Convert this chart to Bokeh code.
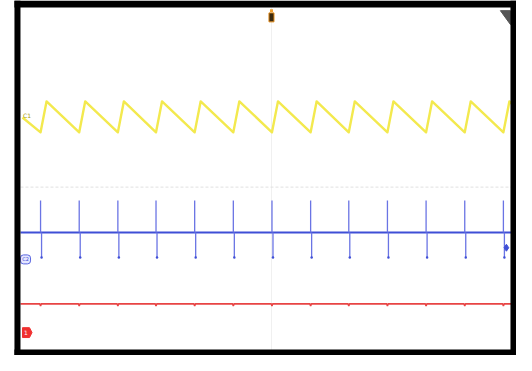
from bokeh.plotting import figure
from bokeh.models import Range1d, BoxAnnotation
from bokeh.core.properties import value
from bokeh.embed import file_html
from bokeh.resources import INLINE

# ---- data (screen divisions: 10 horizontal x 8 vertical) ----
trough_t = [-4.60, -3.83, -3.06, -2.30, -1.53, -0.76, 0.01, 0.78, 1.54, 2.31, 3.08, 3.85, 4.62]
peak_t = [-4.48, -3.71, -2.94, -2.18, -1.41, -0.64, 0.13, 0.90, 1.66, 2.43, 3.20, 3.97, 4.74]
saw_start = (-4.96, 1.55)
saw_end = (4.98, 1.62)
saw_low = 1.22
saw_high = 1.91

ch2_base = -1.01
ch2_spike_hi = -0.30
ch2_spike_lo = -1.57

ch3_level = -2.60
ch3_glitch = -2.65

# ---- build traces ----
yx = [saw_start[0]]
yy = [saw_start[1]]
for tl, tp in zip(trough_t, peak_t):
    yx += [tl, tp]
    yy += [saw_low, saw_high]
yx.append(saw_end[0])
yy.append(saw_end[1])

rx = [-5.0]
ry = [ch3_level]
for t in trough_t:
    rx += [t - 0.015, t, t + 0.015]
    ry += [ch3_level, ch3_glitch, ch3_level]
rx.append(5.0)
ry.append(ch3_level)

p = figure(width=516, height=355, output_backend="svg", toolbar_location=None,
           x_range=Range1d(-5.398, 4.881), y_range=Range1d(-3.750, 4.156),
           x_axis_location=None, y_axis_location=None,
           min_border_left=0, min_border_right=0, min_border_top=0, min_border_bottom=0)
p.border_fill_color = "white"
p.background_fill_color = "white"
p.outline_line_color = None
p.xgrid.visible = False
p.ygrid.visible = False

# faint graticule center lines
p.line([0, 0], [-4, 4], line_color="#f0f0f0", line_width=1)
p.line([-5, 5], [0, 0], line_color="#e0e0e0", line_width=1, line_dash="3 2")

# channel 1 (yellow sawtooth)
p.line(yx, yy, line_color="#f3e94e", line_width=2.4, line_join="round")

# channel 2 (blue pulse train)
p.line([-5, 5], [ch2_base, ch2_base], line_color="#3f4fd6", line_width=2)
n = len(trough_t)
p.segment(x0=trough_t, y0=[ch2_base] * n, x1=trough_t, y1=[ch2_spike_hi] * n,
          line_color="#6a74e4", line_width=1.3)
p.segment(x0=[t + 0.02 for t in trough_t], y0=[ch2_base] * n,
          x1=[t + 0.02 for t in trough_t], y1=[ch2_spike_lo] * n,
          line_color="#6a74e4", line_width=1.3)
p.scatter(x=[t + 0.02 for t in trough_t], y=[ch2_spike_lo] * n, size=2.5,
          fill_color="#3f4fd6", line_color=None)

# channel 3 (red flat)
p.line(rx, ry, line_color="#e84444", line_width=1.6)

# black bezel
p.add_layout(BoxAnnotation(left=-5.12, right=-5.0, fill_color="black", fill_alpha=1, line_color=None))
p.add_layout(BoxAnnotation(left=4.761, fill_color="black", fill_alpha=1, line_color=None))
p.add_layout(BoxAnnotation(left=-5.12, bottom=4.0, fill_color="black", fill_alpha=1, line_color=None))
p.add_layout(BoxAnnotation(left=-5.12, top=-3.617, fill_color="black", fill_alpha=1, line_color=None))

# markers
p.text(x=[-4.95], y=[1.59], text=["C1"], text_font=value("DejaVu Sans"), text_font_size="6px",
       text_color="#a89a00", text_baseline="middle", text_align="left")

p.rect(x=[-4.90], y=[-1.61], width=0.2, height=0.2, fill_color="#e4e6ff", line_color="#5a66e0",
       line_width=1, border_radius=3)
p.text(x=[-4.90], y=[-1.61], text=["C2"], text_font=value("DejaVu Sans"), text_font_size="5px",
       text_color="#3f4fd6", text_baseline="middle", text_align="center")

p.patch(x=[-4.96, -4.82, -4.77, -4.82, -4.96], y=[-3.13, -3.13, -3.24, -3.35, -3.35],
        fill_color="#f03030", line_color="#f03030")
p.text(x=[-4.89], y=[-3.24], text=["1"], text_font=value("DejaVu Sans"), text_font_size="6px",
       text_color="white", text_baseline="middle", text_align="center")

p.scatter(x=[4.68], y=[-1.35], marker="diamond", size=7, fill_color="#3f4fd6", line_color="#3f4fd6")

# trigger marker (top)
p.rect(x=[0], y=[3.93], width=0.06, height=0.06, fill_color="#f0a030", line_color=None)
p.rect(x=[0], y=[3.78], width=0.1, height=0.2, fill_color="#3a2a10", line_color="#e08a1a", line_width=1)

# top-right corner triangle
p.patch(x=[4.56, 4.761, 4.761], y=[3.93, 3.93, 3.62], fill_color="#555555", line_color="#555555")

open("out.html", "w").write(file_html(p, INLINE))
